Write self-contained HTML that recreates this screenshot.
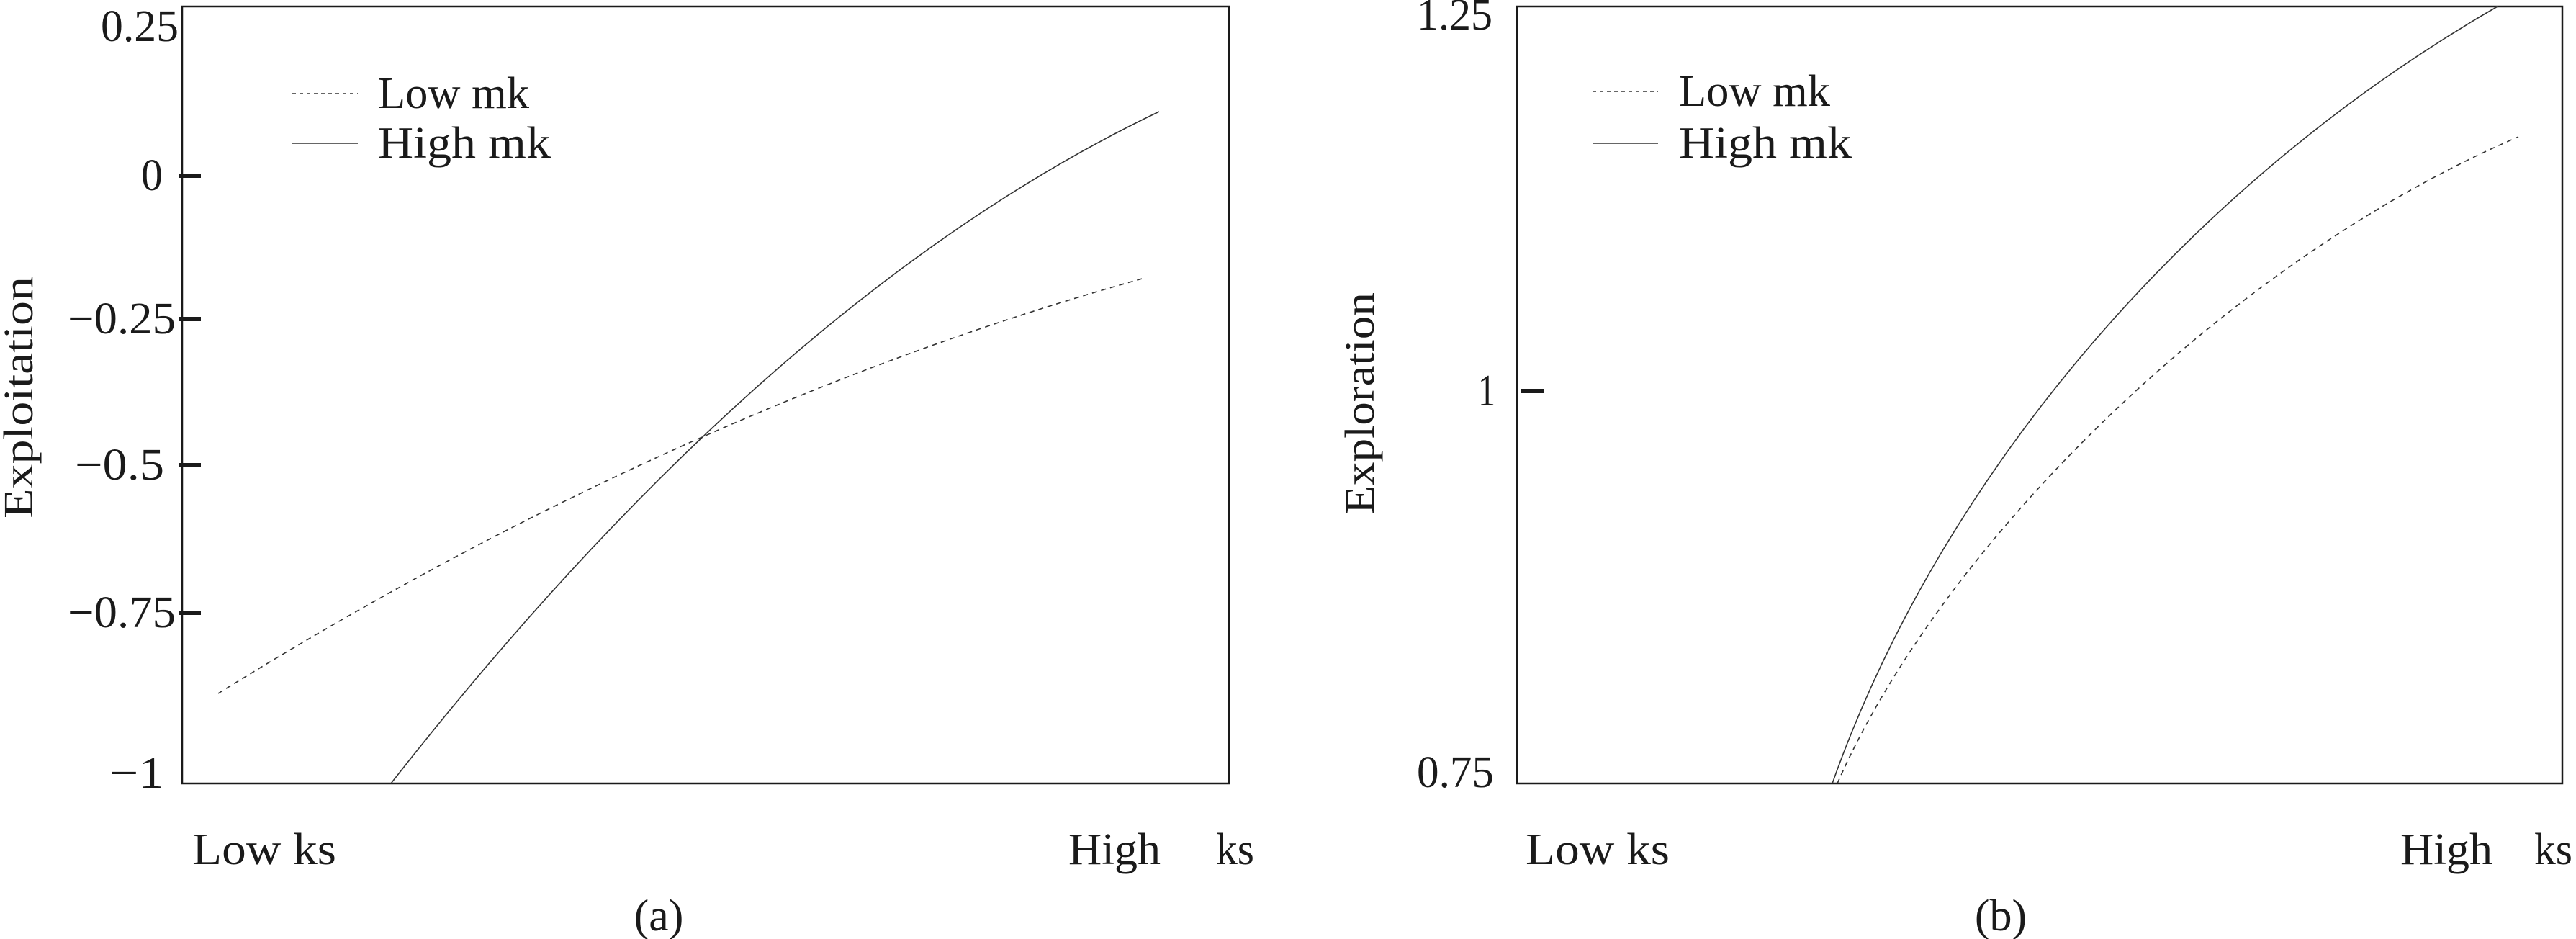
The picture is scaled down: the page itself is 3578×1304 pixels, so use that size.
<!DOCTYPE html>
<html><head><meta charset="utf-8"><style>
html,body{margin:0;padding:0;background:#fff;}
svg{display:block;}
text{font-family:"Liberation Serif","Times New Roman",serif;fill:#1a1a1a;}
</style></head><body>
<svg width="3578" height="1304" viewBox="0 0 3578 1304" xmlns="http://www.w3.org/2000/svg">
<!-- Panel A -->
<rect x="253" y="9" width="1454" height="1079" fill="none" stroke="#1a1a1a" stroke-width="2.5"/>
<g stroke="#1a1a1a" stroke-width="6">
<line x1="248" y1="244" x2="279" y2="244"/>
<line x1="248" y1="443" x2="279" y2="443"/>
<line x1="248" y1="646" x2="279" y2="646"/>
<line x1="248" y1="851" x2="279" y2="851"/>
</g>
<g font-size="62">
<text x="140" y="57" textLength="108" lengthAdjust="spacingAndGlyphs">0.25</text>
<text x="196" y="264" textLength="30" lengthAdjust="spacingAndGlyphs">0</text>
<text x="94" y="463" textLength="150" lengthAdjust="spacingAndGlyphs">−0.25</text>
<text x="104" y="666" textLength="124" lengthAdjust="spacingAndGlyphs">−0.5</text>
<text x="94" y="871" textLength="150" lengthAdjust="spacingAndGlyphs">−0.75</text>
<text x="152" y="1094" textLength="76" lengthAdjust="spacingAndGlyphs">−1</text>
</g>
<text transform="translate(45,552) rotate(-90)" font-size="58" text-anchor="middle" textLength="336" lengthAdjust="spacingAndGlyphs">Exploitation</text>
<text x="267" y="1200" font-size="62" textLength="200" lengthAdjust="spacingAndGlyphs">Low ks</text>
<text x="1484" y="1200" font-size="62" textLength="128" lengthAdjust="spacingAndGlyphs">High</text>
<text x="1689" y="1200" font-size="62" textLength="53" lengthAdjust="spacingAndGlyphs">ks</text>
<text x="915" y="1292" font-size="62" text-anchor="middle">(a)</text>
<line x1="406" y1="130" x2="497" y2="130" stroke="#333" stroke-width="1.5" stroke-dasharray="5 5"/>
<line x1="406" y1="199" x2="497" y2="199" stroke="#333" stroke-width="1.5"/>
<text x="525" y="150" font-size="62" textLength="210" lengthAdjust="spacingAndGlyphs">Low mk</text>
<text x="525" y="219" font-size="62" textLength="240" lengthAdjust="spacingAndGlyphs">High  mk</text>
<path d="M303,963 Q945.5,565.5 1590,386" fill="none" stroke="#333" stroke-width="1.6" stroke-dasharray="7 6"/>
<path d="M543,1088 Q1075,410 1610,155" fill="none" stroke="#333" stroke-width="1.6"/>

<!-- Panel B -->
<rect x="2107" y="9" width="1452" height="1079" fill="none" stroke="#1a1a1a" stroke-width="2.5"/>
<line x1="2113" y1="543" x2="2145" y2="543" stroke="#1a1a1a" stroke-width="6"/>
<g font-size="62">
<text x="1968" y="41" textLength="105" lengthAdjust="spacingAndGlyphs">1.25</text>
<text x="2053" y="563" textLength="24" lengthAdjust="spacingAndGlyphs">1</text>
<text x="1968" y="1093" textLength="107" lengthAdjust="spacingAndGlyphs">0.75</text>
</g>
<text transform="translate(1908,560) rotate(-90)" font-size="58" text-anchor="middle" textLength="308" lengthAdjust="spacingAndGlyphs">Exploration</text>
<text x="2119" y="1200" font-size="62" textLength="200" lengthAdjust="spacingAndGlyphs">Low ks</text>
<text x="3334" y="1200" font-size="62" textLength="128" lengthAdjust="spacingAndGlyphs">High</text>
<text x="3520" y="1200" font-size="62" textLength="53" lengthAdjust="spacingAndGlyphs">ks</text>
<text x="2779" y="1292" font-size="62" text-anchor="middle">(b)</text>
<line x1="2212" y1="127" x2="2303" y2="127" stroke="#333" stroke-width="1.5" stroke-dasharray="5 5"/>
<line x1="2212" y1="199" x2="2303" y2="199" stroke="#333" stroke-width="1.5"/>
<text x="2332" y="147" font-size="62" textLength="210" lengthAdjust="spacingAndGlyphs">Low mk</text>
<text x="2332" y="219" font-size="62" textLength="240" lengthAdjust="spacingAndGlyphs">High  mk</text>
<path d="M2545,1088 C2700,650 3050,250 3469,9" fill="none" stroke="#333" stroke-width="1.6"/>
<path d="M2552,1088 C2700,750 3100,360 3498,190" fill="none" stroke="#333" stroke-width="1.6" stroke-dasharray="7 6"/>
</svg>
</body></html>
